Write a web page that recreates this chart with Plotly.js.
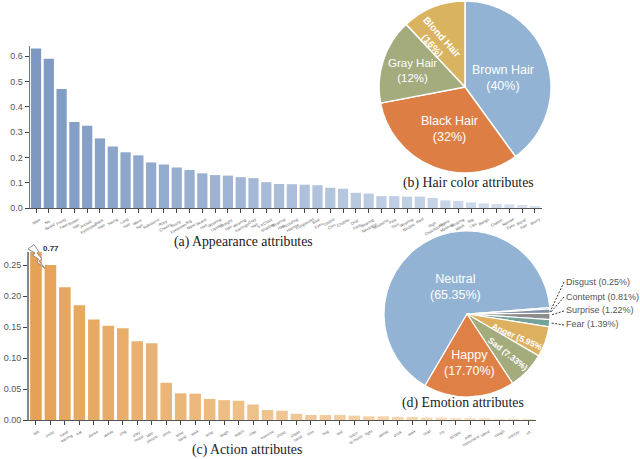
<!DOCTYPE html>
<html><head><meta charset="utf-8">
<script src="https://cdn.plot.ly/plotly-3.0.1.min.js"></script>
<style>html,body{margin:0;padding:0;background:#fff}#c{width:640px;height:459px}</style></head>
<body><div id="c"></div>
<script>
const appearanceLabels=["Male","No<br>Beard","Pretty<br>Face","Brown<br>Hair","Arched<br>Eyebrows","Black<br>Hair","Young","Long<br>Hair","Wavy<br>Hair","Sideburns","Rosy<br>Cheeks","Bushy<br>Eyebrows","Big<br>Nose","Beard<br>Hair","Wearing<br>Lipstick","Straight<br>Hair","Wearing<br>Earrings","Gray<br>Hair","5 o'Clock<br>Shadow","Wearing<br>Hat","Receding<br>Hairline","Eyeglasses","Blue<br>Eyes","Double<br>Chin","Chubby","Oval<br>Face","Wearing<br>Necklace","Mustache","Pale<br>Skin","Wearing<br>Necktie","Bald","High<br>Cheekbones","Heavy<br>Makeup","Wearing<br>Mask","Big<br>Lips","Bangs","Goatee","Narrow<br>Eyes","Blond<br>Hair","Blurry"];
const appearanceValues=[0.63,0.59,0.47,0.34,0.325,0.275,0.243,0.22,0.208,0.18,0.172,0.16,0.15,0.137,0.13,0.128,0.122,0.118,0.102,0.095,0.094,0.092,0.09,0.08,0.076,0.06,0.057,0.047,0.047,0.045,0.045,0.04,0.03,0.028,0.022,0.018,0.016,0.014,0.012,0.008];
const actionLabels=["talk","smile","hand<br>waving","eat","dance","speak","sing","play<br>music","take<br>picture","drink","raise<br>hand","walk","write","laugh","watch","clap","exercise","shout","shake<br>hand","kiss","hug","nod","listen<br>to music","fight","speak","drink","walk","read","cry","people","play<br>instrument","stand","cough","sneeze","sit"];
const actionValues=[0.77,0.25,0.214,0.185,0.162,0.152,0.148,0.127,0.124,0.06,0.043,0.0425,0.034,0.032,0.031,0.025,0.016,0.015,0.01,0.008,0.008,0.008,0.007,0.006,0.006,0.005,0.005,0.004,0.004,0.003,0.003,0.003,0.002,0.002,0.002];
const hairNames=["Brown Hair","Black Hair","Gray Hair","Blond Hair"];
const hairValues=[40,32,16,12];
const emotionNames=["Neutral","Disgust","Contempt","Surprise","Fear","Anger","Sad","Happy"];
const emotionValues=[65.35,0.25,0.81,1.22,1.39,5.95,7.33,17.70];

const W=640,H=459;
const px=x=>x/W, py=y=>1-y/H;
const mix=(a,b,t)=>{const c=a.map((v,i)=>Math.round(v+(b[i]-v)*t));return `rgb(${c[0]},${c[1]},${c[2]})`};
const fade=(n,a,b)=>Array.from({length:n},(_,i)=>mix(a,b,i/(n-1)));
const axisBase={showgrid:false,zeroline:false,showline:true,linecolor:"#555",ticks:"outside",tickcolor:"#444",tickfont:{family:"Liberation Sans",size:9,color:"#555"}};

const traces=[
 {type:"bar",x:appearanceLabels.map((_,i)=>i),y:appearanceValues,xaxis:"x",yaxis:"y",marker:{color:fade(40,[125,153,194],[216,226,240])},hoverinfo:"skip"},
 {type:"bar",x:actionLabels.map((_,i)=>i),y:actionValues,xaxis:"x2",yaxis:"y2",marker:{color:fade(35,[229,162,86],[250,232,206])},hoverinfo:"skip"},
 {type:"pie",labels:hairNames,values:hairValues,sort:false,direction:"clockwise",rotation:0,textinfo:"none",
  marker:{colors:["#92b3d3","#dd7f45","#a4ab7d","#d9b35f"],line:{color:"#fff",width:1.5}},
  domain:{x:[px(379),px(551)],y:[py(173),py(1)]},hoverinfo:"skip",showlegend:false},
 {type:"pie",labels:emotionNames,values:emotionValues,sort:false,direction:"clockwise",rotation:210.4,textinfo:"none",
  marker:{colors:["#92b3d3","#34689c","#7f8fa8","#8c8c8c","#74a198","#dcb05f","#a4ab7d","#df8146"],line:{color:"#fff",width:1.2}},
  domain:{x:[px(384),px(550)],y:[py(397),py(231)]},hoverinfo:"skip",showlegend:false}
];

const ann=(x,y,text,o={})=>Object.assign({xref:"paper",yref:"paper",x:px(x),y:py(y),text,showarrow:false,xanchor:"center",yanchor:"middle",font:{family:"Liberation Sans",size:12,color:"#fff"}},o);
const cap=(x,y,text)=>ann(x,y,text,{font:{family:"Liberation Serif",size:13.8,color:"#222"}});
const side=(x,y,text)=>ann(x,y,text,{xanchor:"left",font:{family:"Liberation Sans",size:9,color:"#555"}});
const tickAnn=(labels,axis)=>labels.map((t,i)=>({xref:axis,yref:"paper",x:i,y:axis==="x"?py(214):py(426),text:t,showarrow:false,textangle:-30,xanchor:"center",yanchor:"top",font:{family:"Liberation Sans",size:4,color:"#666"}}));

const annotations=[
 ...tickAnn(appearanceLabels,"x"),...tickAnn(actionLabels,"x2"),
 cap(243,242,"(a) Appearance attributes"),
 cap(468,183,"(b) Hair color attributes"),
 cap(247,450,"(c) Action attributes"),
 cap(463,403,"(d) Emotion attributes"),
 ann(503,78,"Brown Hair<br>(40%)",{font:{family:"Liberation Sans",size:12.5,color:"#fff"}}),
 ann(449,129,"Black Hair<br>(32%)",{font:{family:"Liberation Sans",size:12.5,color:"#fff"}}),
 ann(412,70,"Gray Hair<br>(12%)",{font:{family:"Liberation Sans",size:11.5,color:"#fff"}}),
 ann(437,41,"<b>Blond Hair<br>(16%)</b>",{textangle:48,font:{family:"Liberation Sans",size:10,color:"#fff"}}),
 ann(455,287,"Neutral<br>(65.35%)",{font:{family:"Liberation Sans",size:12.5,color:"#fff"}}),
 ann(469,363,"Happy<br>(17.70%)",{font:{family:"Liberation Sans",size:12.5,color:"#fff"}}),
 ann(518,337,"<b>Anger (5.95%)</b>",{textangle:24,font:{family:"Liberation Sans",size:8.5,color:"#fff"}}),
 ann(508,354,"<b>Sad (7.33%)</b>",{textangle:38,font:{family:"Liberation Sans",size:8.5,color:"#fff"}}),
 side(564,282,"Disgust (0.25%)"),side(564,297,"Contempt (0.81%)"),side(564,310,"Surprise (1.22%)"),side(564,324,"Fear (1.39%)"),
 ann(41,248,"<b>0.77</b>",{xanchor:"left",font:{family:"Liberation Sans",size:8,color:"#333"}})
];
const dash=(x0,y0,x1,y1)=>({type:"line",xref:"paper",yref:"paper",x0:px(x0),y0:py(y0),x1:px(x1),y1:py(y1),line:{color:"#333",width:1,dash:"2px,1.5px"}});
const boltPts=[[28,249],[34,244.5],[39,252],[37,253],[42,259],[39,261],[45,268.5],[37,262],[38.5,259],[33,255.5],[35,253]];
const bolt={type:"path",xref:"paper",yref:"paper",path:"M"+boltPts.map(p=>px(p[0])+","+py(p[1])).join("L")+"Z",fillcolor:"#fff",line:{color:"#777",width:0.8},layer:"above"};

const layout={width:W,height:H,margin:{l:0,r:0,t:0,b:0},paper_bgcolor:"#fff",plot_bgcolor:"#fff",showlegend:false,bargap:0.2,
 xaxis:Object.assign({},axisBase,{domain:[px(30),px(542)],anchor:"y",range:[-0.47,39.55],tickmode:"array",tickvals:appearanceLabels.map((_,i)=>i),ticktext:appearanceLabels.map(()=>""),ticklen:4,linewidth:1}),
 yaxis:Object.assign({},axisBase,{domain:[py(208),py(46)],anchor:"x",range:[0,0.64],tickvals:[0,0.1,0.2,0.3,0.4,0.5,0.6],tickformat:".1f",ticklen:4,linewidth:1.5,linecolor:"#777"}),
 xaxis2:Object.assign({},axisBase,{domain:[px(29),px(536)],anchor:"y2",range:[-0.48,34.55],tickmode:"array",tickvals:actionLabels.map((_,i)=>i),ticktext:actionLabels.map(()=>""),ticklen:4,linewidth:1}),
 yaxis2:Object.assign({},axisBase,{domain:[py(420),py(252)],anchor:"x2",range:[0,0.271],tickvals:[0,0.05,0.1,0.15,0.2,0.25],tickformat:".2f",ticklen:4,linewidth:2,linecolor:"#888"}),
 annotations,
 shapes:[dash(564,282,550,312),dash(564,297,551,312),dash(564,311,551,315),dash(564,325,551,323),bolt]
};
Plotly.newPlot("c",traces,layout,{staticPlot:true,displayModeBar:false});
</script></body></html>
